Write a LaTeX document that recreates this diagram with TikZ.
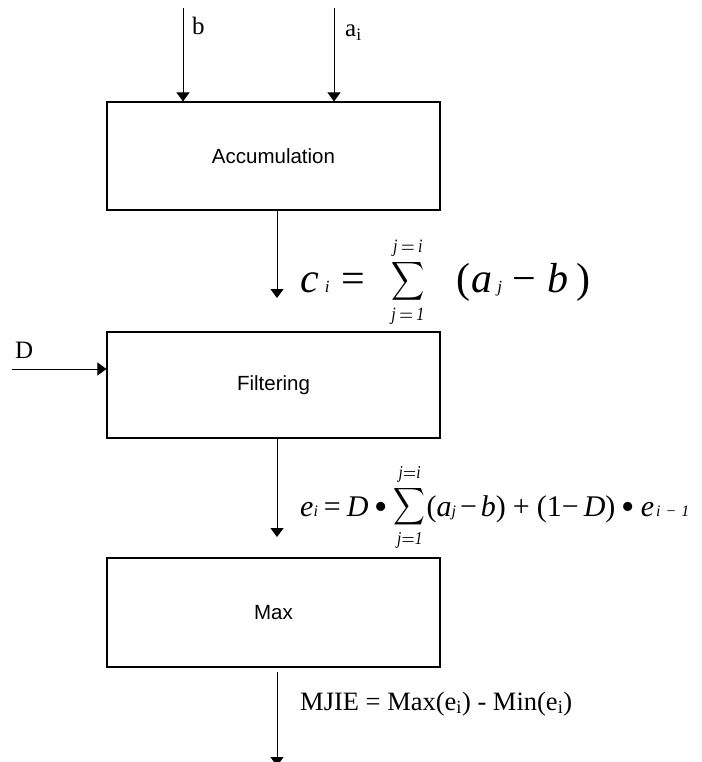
\documentclass[tikz,border=0pt]{standalone}
\usepackage{graphicx}
\usepackage{fontspec}
\setmainfont{Liberation Serif}
\newfontfamily\arialf{Liberation Sans}
\usetikzlibrary{arrows.meta}
\newcommand\fbig{\fontsize{42}{42}\selectfont}
\newcommand\fsm{\fontsize{17}{17}\selectfont}
\newcommand\fmid{\fontsize{30}{30}\selectfont}
\newcommand\fss{\fontsize{16}{16}\selectfont}
\newcommand\bigbul{\raisebox{-3pt}{\fontsize{38}{38}\selectfont •}}
\begin{document}
\begin{tikzpicture}[x=1pt,y=-1pt,
  box/.style={draw,line width=1.1pt,minimum width=333pt,inner sep=0pt,font=\arialf\fontsize{20.5}{24}\selectfont},
  arr/.style={line width=1pt,-{Triangle[width=13pt,length=9pt]}},
  lab/.style={font=\fontsize{25}{25}\selectfont,inner sep=0pt,anchor=base west},
  frm/.style={inner sep=0pt,anchor=base west}]
\useasboundingbox (0,0) rectangle (701,762);
\node[box,minimum height=108pt] (acc) at (273.5,156) {Accumulation};
\node[box,minimum height=106pt] (filt) at (273.5,385) {Filtering};
\node[box,minimum height=109pt] (max) at (273.5,612.5) {Max};
\coordinate (bt) at (183,8);
\coordinate (at) at (334,8);
\draw[arr] (bt) -- (bt |- acc.north);
\draw[arr] (at) -- (at |- acc.north);
\coordinate (c1) at (277,298);
\draw[arr] (acc.south -| c1) -- (c1);
\coordinate (dl) at (12,369);
\draw[arr] (dl) -- (dl -| filt.west);
\coordinate (e1) at (277,537);
\draw[arr] (filt.south -| e1) -- (e1);
\coordinate (m0) at (277,672);
\coordinate (m1) at (277,766);
\draw[arr] (m0) -- (m1);
\node[lab] (lb) at (192,35) {b};
\node[lab] (la) at (345,37) {a\textsubscript{i}};
\node[lab] (ld) at (15,358) {D};
\node[frm] (f1) at (300,292) {{\fbig\itshape c}\hspace{6pt}{\fsm\itshape i}\hspace{12pt}{\fbig =}\hspace{26pt}\raisebox{4pt}{\scalebox{2.3}[2.7]{$\displaystyle\sum_{\rule{0pt}{5pt}\mathit{j\,=\,1}}^{\mathit{j\,=\,i}\rule[-1.5pt]{0pt}{0pt}}$}}\hspace{32pt}{\fbig (}\hspace{1pt}{\fbig\itshape a}\hspace{5pt}{\fsm\itshape j}\hspace{10pt}{\fbig −}\hspace{12pt}{\fbig\itshape b}\hspace{8pt}{\fbig )}};
\node[frm] (f2) at (300,516) {{\fmid\itshape e}{\fss\itshape i}\hspace{6pt}{\fmid =}\hspace{6pt}{\fmid\itshape D}\hspace{6pt}\bigbul\hspace{6pt}\raisebox{3pt}{\scalebox{2.2}[2.6]{$\displaystyle\sum_{\rule{0pt}{5pt}\mathit{j=1}}^{\mathit{j=i}\rule[-1.5pt]{0pt}{0pt}}$}}\hspace{1pt}{\fmid (\textit{a}}{\fss\itshape j}\hspace{4pt}{\fmid −\hspace{4pt}\textit{b})\hspace{7pt}+\hspace{7pt}(1−\hspace{5pt}\textit{D})}\hspace{6pt}\bigbul\hspace{6pt}{\fmid\itshape e}{\fss\itshape \hspace{2pt}i\hspace{5pt}−\hspace{5pt}1}};
\node[frm,font=\fontsize{26.5}{26.5}\selectfont] (f3) at (300,710) {MJIE = Max(e\textsubscript{i}) - Min(e\textsubscript{i})};
\end{tikzpicture}
\end{document}
